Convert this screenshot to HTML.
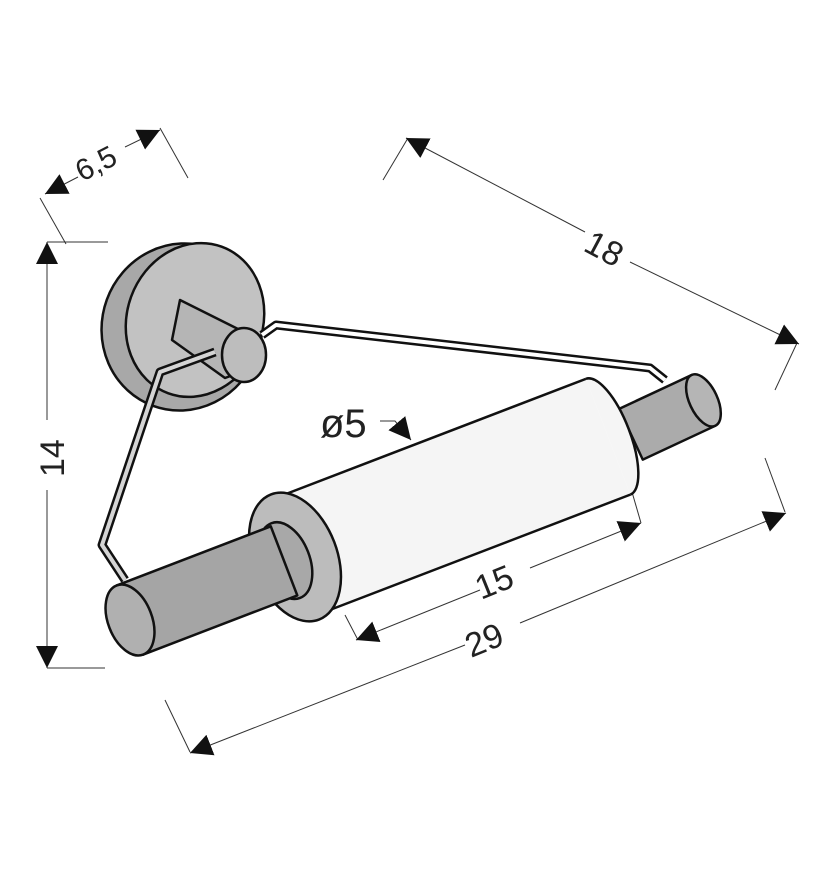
<!DOCTYPE html>
<html><head><meta charset="utf-8"><style>
html,body{margin:0;padding:0;background:#fff;width:828px;height:886px;overflow:hidden}
svg{display:block}
text{font-family:"Liberation Sans",sans-serif;fill:#222}
</style></head><body>
<svg width="828" height="886" viewBox="0 0 828 886" xmlns="http://www.w3.org/2000/svg">
<defs>
<marker id="a" viewBox="0 0 10 10" refX="10" refY="5" markerWidth="22" markerHeight="22" markerUnits="userSpaceOnUse" orient="auto-start-reverse"><path d="M0,0L10,5L0,10z" fill="#111"/></marker>
</defs>
<g stroke="#333" stroke-width="1" fill="none">
<line x1="40" y1="198" x2="66" y2="244"/><line x1="160" y1="128" x2="188" y2="178"/>
<line x1="45" y1="194" x2="78" y2="177" marker-start="url(#a)"/>
<line x1="125" y1="147" x2="160" y2="130" marker-end="url(#a)"/>
<line x1="408" y1="138" x2="383" y2="180"/><line x1="797" y1="343" x2="775" y2="390"/>
<line x1="406" y1="138" x2="585" y2="232" marker-start="url(#a)"/>
<line x1="630" y1="262" x2="799" y2="344" marker-end="url(#a)"/>
<line x1="47" y1="242" x2="108" y2="242"/><line x1="47" y1="668" x2="105" y2="668"/>
<line x1="47" y1="242" x2="47" y2="420" marker-start="url(#a)"/>
<line x1="47" y1="490" x2="47" y2="668" marker-end="url(#a)"/>
<line x1="165" y1="700" x2="190" y2="752"/><line x1="765" y1="458" x2="785" y2="512"/>
<line x1="190" y1="753" x2="465" y2="645" marker-start="url(#a)"/>
<line x1="520" y1="623" x2="786" y2="513" marker-end="url(#a)"/>
<line x1="345" y1="615" x2="358" y2="640"/><line x1="632" y1="492" x2="641" y2="523"/>
<line x1="356" y1="640" x2="480" y2="590" marker-start="url(#a)"/>
<line x1="530" y1="568" x2="641" y2="523" marker-end="url(#a)"/>
<polyline points="380,421 395,421 411,440" marker-end="url(#a)"/>
</g>
<text x="0" y="0" font-size="30" transform="translate(82,182) rotate(-27)">6,5</text>
<text x="0" y="0" font-size="34" transform="translate(582,250) rotate(28)">18</text>
<text x="0" y="0" font-size="34" transform="translate(64,477) rotate(-90)">14</text>
<text x="0" y="0" font-size="34" transform="translate(471,658) rotate(-22)">29</text>
<text x="0" y="0" font-size="34" transform="translate(481,600) rotate(-22)">15</text>
<text x="320" y="437" font-size="40">ø5</text>

<g stroke="#111" stroke-width="2.5" stroke-linejoin="round">
<ellipse cx="182" cy="327" rx="80" ry="84" fill="#a8a8a8" transform="rotate(20 182 327)"/>
<ellipse cx="195" cy="320" rx="68" ry="78" fill="#c2c2c2" transform="rotate(20 195 320)"/>
<path d="M180,300 L240,330 L260,365 L225,378 L172,340 Z" fill="#b5b5b5"/>
<ellipse cx="244" cy="355" rx="22" ry="27" fill="#bdbdbd"/>
<path d="M262,335 L276,325 L650,368 L665,380" fill="none" stroke-width="9"/>
<path d="M262,335 L276,325 L650,368 L665,380" fill="none" stroke="#fff" stroke-width="4"/>
<path d="M215,352 L160,372 L102,545 L125,580" fill="none" stroke-width="9"/>
<path d="M215,352 L160,372 L102,545 L125,580" fill="none" stroke="#d5d5d5" stroke-width="4"/>
<g transform="translate(640,430) rotate(-25)">
<rect x="-10" y="-28" width="80" height="56" fill="#ababab"/>
<ellipse cx="70" cy="0" rx="14" ry="28" fill="#b5b5b5"/>
</g>
<g transform="translate(300,555) rotate(-21)">
<rect x="0" y="-62" width="330" height="124" fill="#f5f5f5" stroke="none"/>
<line x1="0" y1="-62" x2="330" y2="-62"/><line x1="0" y1="62" x2="330" y2="62"/>
<path d="M330,-62 A22,62 0 0 1 330,62" fill="#f5f5f5"/>
</g>
<g transform="translate(295,557) rotate(-21)">
<ellipse cx="0" cy="0" rx="42" ry="67" fill="#bcbcbc"/>
<ellipse cx="-10" cy="0" rx="24" ry="40" fill="#a8a8a8"/>
</g>
<g transform="translate(130,620) rotate(-21)">
<rect x="0" y="-37" width="165" height="74" fill="#a5a5a5"/>
<ellipse cx="0" cy="0" rx="22" ry="37" fill="#b0b0b0"/>
</g>
</g>
</svg>
</body></html>
